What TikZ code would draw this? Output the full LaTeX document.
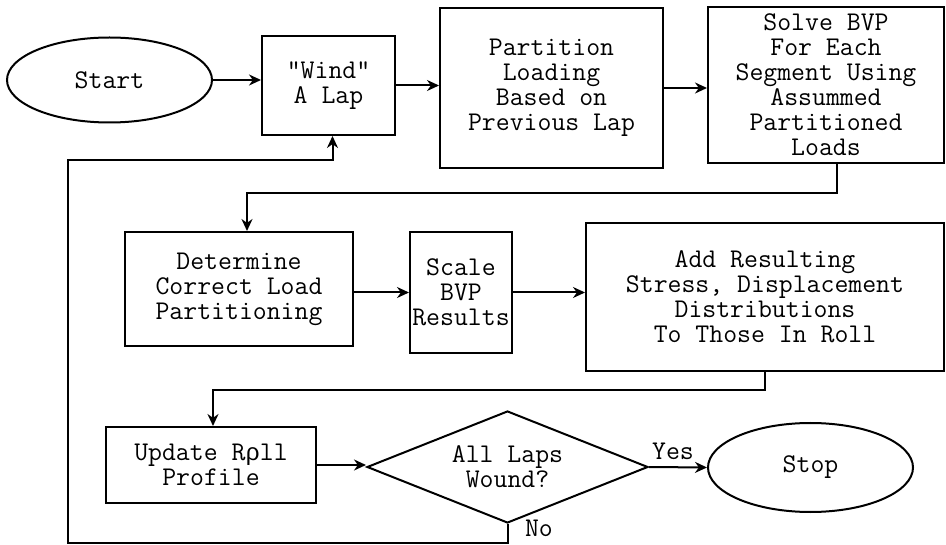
\documentclass[tikz,border=0pt]{standalone}
\usepackage{fontspec}
\usetikzlibrary{shapes.geometric,arrows.meta}
\newfontfamily\rhofont{Liberation Mono}

\begin{document}
\begin{tikzpicture}[x=1pt, y=-1pt, line width=2pt,
	every node/.style={font=\ttfamily\fontsize{27}{25}\selectfont, align=center, inner sep=0pt},
	boxnode/.style={draw, rectangle},
	endnode/.style={draw, ellipse},
	asknode/.style={draw, diamond, aspect=2.5},
	flow/.style={-{Stealth[length=12pt,width=11pt]}}]
\useasboundingbox (0,0) rectangle (946,545);

\node[endnode, minimum width=205, minimum height=85] (start) at (109.5,80) {Start};
\node[boxnode, minimum width=133, minimum height=99] (wind) at (328.5,85.5) {"Wind"\\A Lap};
\node[boxnode, minimum width=223, minimum height=160] (part) at (551.5,88) {Partition\\Loading\\Based on\\Previous Lap};
\node[boxnode, minimum width=236, minimum height=156] (solve) at (826,85) {Solve BVP\\For Each\\Segment Using\\Assummed\\Partitioned\\Loads};
\node[boxnode, minimum width=228, minimum height=114] (det) at (239,289) {Determine\\Correct Load\\Partitioning};
\node[boxnode, minimum width=102, minimum height=121] (scale) at (461,292.5) {Scale\\BVP\\Results};
\node[boxnode, minimum width=358, minimum height=148] (add) at (765,297) {Add Resulting\\Stress, Displacement\\Distributions\\To Those In Roll};
\node[boxnode, minimum width=210, minimum height=76] (update) at (211,465) {Update R{\rhofont\fontsize{24}{25}\selectfont ρ}ll\\Profile};
\node[asknode, minimum width=281, minimum height=112] (laps) at (507.5,467) {All Laps\\Wound?};
\node[endnode, minimum width=205, minimum height=89] (stop) at (810.5,467.5) {Stop};
\node[anchor=south] (yes) at (673,461) {Yes};
\node[anchor=west] (no) at (524,528) {No};

\coordinate (bend1) at (247,193);
\coordinate (bend2) at (213,390);
\coordinate (bend3) at (68,160);
\coordinate (bend4) at (507.5,543);

\draw[flow] (start.east) -- (start.east -| wind.west);
\draw[flow] (wind.east) -- (wind.east -| part.west);
\draw[flow] (part.east) -- (part.east -| solve.west);
\draw[flow] ([xshift=11pt]solve.south) |- (bend1) -- (bend1 |- det.north);
\draw[flow] (scale.west -| det.east) -- (scale.west);
\draw[flow] (scale.east) -- (scale.east -| add.west);
\draw[flow] (add.south) |- (bend2) -- (bend2 |- update.north);
\draw[flow] (update.east) -- (update.east -| laps.west);
\draw[flow] (laps.east) -- (stop.west);
\draw[flow] (laps.south) -- (bend4) -| (bend3) -| ([xshift=4pt]wind.south);
\end{tikzpicture}
\end{document}
